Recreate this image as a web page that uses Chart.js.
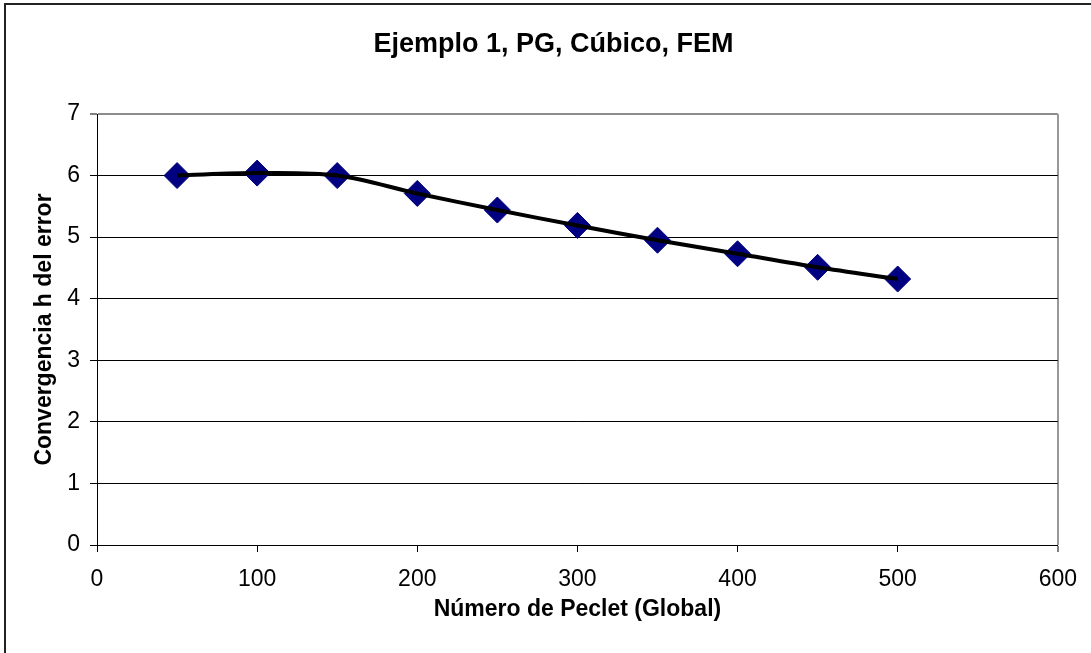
<!DOCTYPE html>
<html>
<head>
<meta charset="utf-8">
<title>Ejemplo 1, PG, Cúbico, FEM</title>
<script src="https://cdn.jsdelivr.net/npm/chart.js"></script>
<style>
    html, body { margin: 0; padding: 0; background: #fff; }
    canvas { display: block; }
</style>
</head>
<body>
<canvas id="grafico" width="1091" height="653"></canvas>
<script>
// Número de Peclet global y orden de convergencia h del error
const peclet = [50, 100, 150, 200, 250, 300, 350, 400, 450, 500];
const convergencia = [6.00, 6.04, 6.00, 5.71, 5.44, 5.19, 4.95, 4.73, 4.51, 4.32];

const xTicks = [0, 100, 200, 300, 400, 500, 600];
const yTicks = [0, 1, 2, 3, 4, 5, 6, 7];

const puntos = peclet.map((p, i) => ({ x: p, y: convergencia[i] }));

Chart.defaults.font.family = 'Arial, "Liberation Sans", sans-serif';
Chart.defaults.color = '#000';

// marco exterior del gráfico (solo izquierda y arriba quedan dentro)
const marco = {
    id: 'marco',
    beforeDraw(chart) {
        const ctx = chart.ctx;
        ctx.save();
        ctx.strokeStyle = '#222';
        ctx.lineWidth = 2;
        ctx.beginPath();
        ctx.moveTo(5, chart.height);
        ctx.lineTo(5, 4);
        ctx.lineTo(chart.width, 4);
        ctx.stroke();
        ctx.restore();
    }
};

new Chart(document.getElementById('grafico'), {
    type: 'line',
    data: {
        datasets: [
            {
                // curva suavizada, encima de los marcadores
                data: puntos,
                borderColor: '#000',
                borderWidth: 4,
                pointRadius: 0,
                tension: 0.33,
                fill: false,
                order: 0
            },
            {
                data: puntos,
                showLine: false,
                pointStyle: 'rectRot',
                pointRadius: 13,
                pointBorderWidth: 1,
                pointBackgroundColor: '#000080',
                pointBorderColor: '#000080',
                order: 1
            }
        ]
    },
    options: {
        responsive: false,
        animation: false,
        layout: { padding: { left: 16, right: 0, top: 0, bottom: 0 } },
        plugins: {
            legend: { display: false },
            tooltip: { enabled: false },
            title: {
                display: true,
                text: 'Ejemplo 1, PG, Cúbico, FEM',
                color: '#000',
                font: { size: 27, weight: 'bold' },
                padding: { top: 28, bottom: 53.6 }
            }
        },
        scales: {
            x: {
                type: 'linear',
                min: 0,
                max: 600,
                afterFit: (scale) => { scale.height = 108; },
                afterBuildTicks: (scale) => { scale.ticks = xTicks.map(v => ({ value: v })); },
                ticks: { font: { size: 23 }, padding: 14, color: '#000' },
                grid: {
                    color: (c) => c.tick && c.tick.value === 600 ? '#999' : 'rgba(0,0,0,0)',
                    lineWidth: (c) => c.tick && c.tick.value === 600 ? 2 : 1,
                    tickColor: '#000',
                    tickWidth: 1,
                    tickLength: 7
                },
                border: { color: '#000', width: 1 },
                title: {
                    display: true,
                    text: 'Número de Peclet (Global)',
                    color: '#000',
                    font: { size: 23, weight: 'bold' },
                    padding: { top: 0, bottom: 30 }
                }
            },
            y: {
                min: 0,
                max: 7,
                afterFit: (scale) => { scale.width = 81; },
                afterBuildTicks: (scale) => { scale.ticks = yTicks.map(v => ({ value: v })); },
                ticks: { font: { size: 23 }, padding: 10, color: '#000' },
                grid: {
                    color: (c) => c.tick && c.tick.value === 7 ? '#8c8c8c' : '#000',
                    lineWidth: (c) => c.tick && c.tick.value === 7 ? 2 : 1,
                    tickColor: '#000',
                    tickWidth: 1,
                    tickLength: 7
                },
                border: { color: '#000', width: 1 },
                title: {
                    display: true,
                    text: 'Convergencia h del error',
                    color: '#000',
                    font: { size: 23, weight: 'bold' },
                    padding: { top: 15, bottom: 0 }
                }
            },
            // margen blanco a la derecha del área de trazado
            margen: {
                position: 'right',
                display: true,
                afterFit: (scale) => { scale.width = 32; },
                ticks: { display: false },
                grid: { display: false },
                border: { display: false }
            }
        }
    },
    plugins: [marco]
});
</script>
</body>
</html>
